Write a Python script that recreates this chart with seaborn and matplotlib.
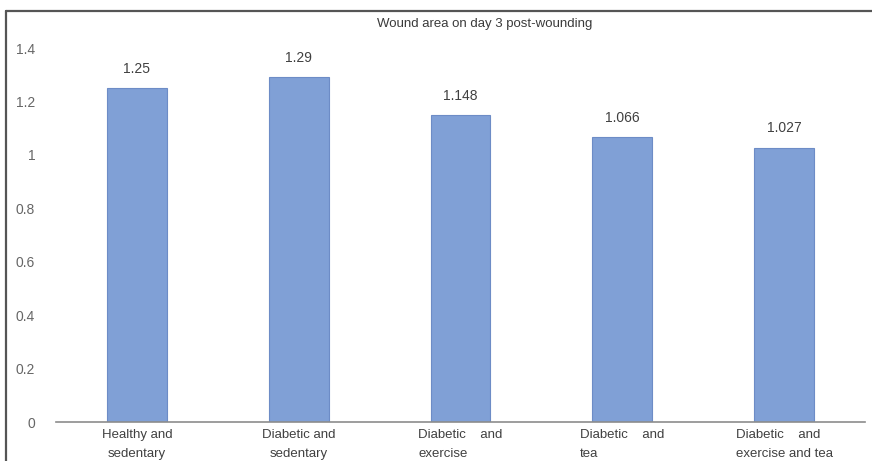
import matplotlib
matplotlib.use("Agg")
import matplotlib.pyplot as plt
from matplotlib.lines import Line2D
import seaborn as sns
import pandas as pd

categories = [
    "Healthy and\nsedentary",
    "Diabetic and\nsedentary",
    "Diabetic    and\nexercise",
    "Diabetic    and\ntea",
    "Diabetic    and\nexercise and tea",
]
values = [1.25, 1.29, 1.148, 1.066, 1.027]
yticks = [0, 0.2, 0.4, 0.6, 0.8, 1, 1.2, 1.4]
title = "Wound area on day 3 post-wounding"

sns.set_theme(style="white")
plt.rcParams["font.family"] = ["Liberation Sans", "DejaVu Sans"]

df = pd.DataFrame({"group": categories, "area": values})

fig = plt.figure(figsize=(8.72, 4.61), dpi=100)
ax = fig.add_axes([56 / 872, 1 - 422 / 461, (865 - 56) / 872, (422 - 48) / 461])

sns.barplot(data=df, x="group", y="area", ax=ax, width=0.37,
            color="#80a0d6", edgecolor="#6d8cc6", linewidth=0.8, saturation=1)

ax.set_ylim(0, 1.4)
ax.set_xlim(-0.5, 4.5)
ax.set_yticks(yticks)
ax.set_yticklabels([f"{t:g}" for t in yticks])
ax.set_xlabel("")
ax.set_ylabel("")

for side in ["top", "right", "left"]:
    ax.spines[side].set_visible(False)
ax.spines["bottom"].set_color("#8c8c8c")
ax.spines["bottom"].set_linewidth(1.2)

ax.tick_params(axis="y", length=0, pad=15, labelsize=10, labelcolor="#666666")
ax.tick_params(axis="x", length=0, pad=5, labelsize=9.5, labelcolor="#404040")

for i, lbl in enumerate(ax.get_xticklabels()):
    lbl.set_multialignment("center" if i < 2 else "left")
    lbl.set_linespacing(1.75)

ax.bar_label(ax.containers[0], labels=[f"{v:g}" for v in values],
             padding=9, fontsize=10, color="#404040")

fig.text(485 / 872, 1 - 24 / 461, title, ha="center", va="center",
         fontsize=9.5, color="#3a3a3a")

# chart frame: left and top edges
fig.add_artist(Line2D([6 / 872, 6 / 872], [0, 1 - 11 / 461],
                      transform=fig.transFigure, color="#555555", lw=1.6))
fig.add_artist(Line2D([6 / 872, 1], [1 - 11 / 461, 1 - 11 / 461],
                      transform=fig.transFigure, color="#555555", lw=1.6))

fig.savefig("out.png", dpi=100)
